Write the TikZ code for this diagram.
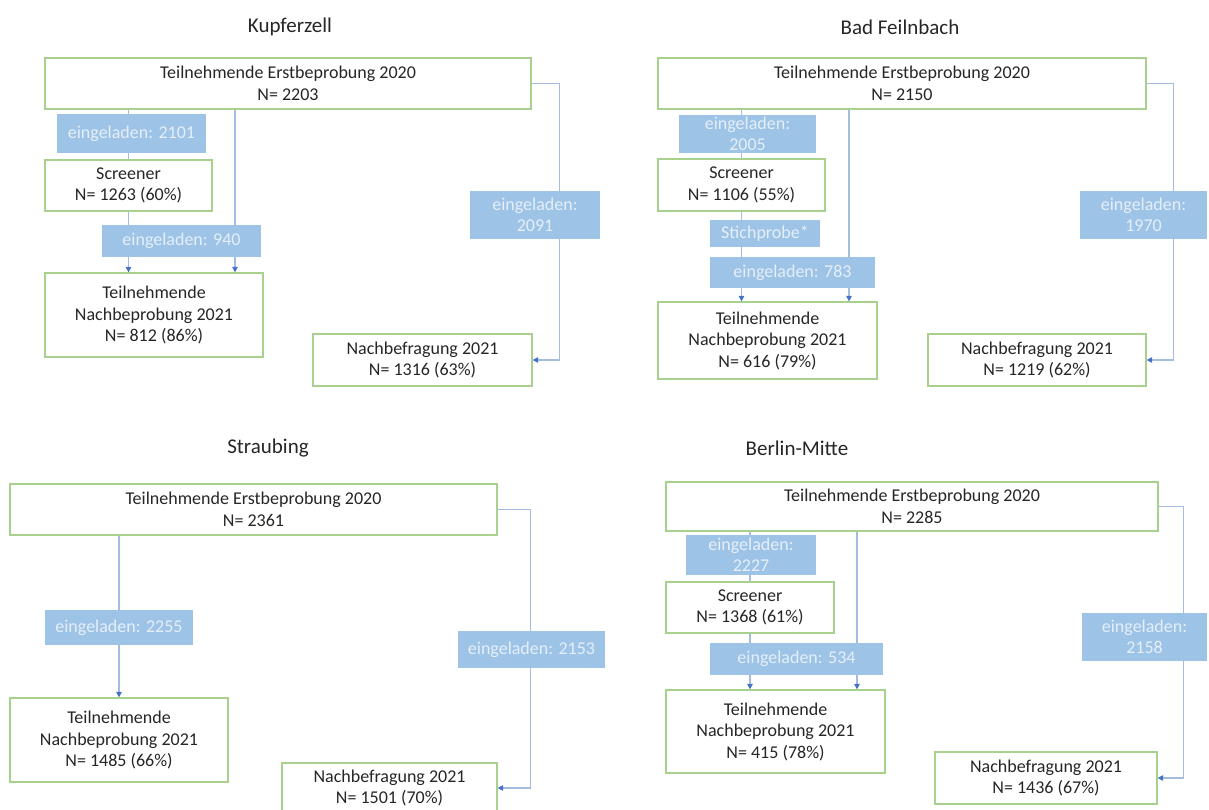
\documentclass[tikz,border=0pt]{standalone}
\usepackage{fontspec}
\setmainfont{Carlito}
\usetikzlibrary{arrows.meta}
\definecolor{boxline}{HTML}{A9D18E}
\definecolor{lblfill}{HTML}{9DC3E6}
\definecolor{lbltext}{HTML}{E6EFF9}
\definecolor{conn}{HTML}{A5BCE0}
\definecolor{tip}{HTML}{4472C4}
\definecolor{txt}{HTML}{262626}
\tikzset{
  box/.style={draw=boxline, line width=1.2pt, fill=white, inner sep=0pt, align=center, text=txt,
    font=\fontsize{18}{21.5}\selectfont},
  lbl/.style={fill=lblfill, inner sep=0pt, align=center, text=lbltext,
    font=\fontsize{18}{21}\selectfont},
  ttl/.style={text=txt, font=\fontsize{21}{25}\selectfont},
  con/.style={draw=conn, line width=1.1pt},
  arr/.style={con, -{Triangle[length=5.5pt,width=5.5pt,color=tip]}}
}
\begin{document}
\begin{tikzpicture}[x=1pt,y=-1pt]
\useasboundingbox (0,0) rectangle (1209,810);

% ---------------- Kupferzell ----------------
\node[ttl] (tK) at (290,27) {Kupferzell};
\node[box, minimum width=486pt, minimum height=51pt] (K0) at (288,83.5) {Teilnehmende Erstbeprobung 2020\\N= 2203};
\node[box, minimum width=167pt, minimum height=51pt] (KS) at (128.5,185.5) {Screener\\N= 1263 (60\%)};
\node[box, minimum width=218pt, minimum height=84pt] (KN) at (154,315) {Teilnehmende\\Nachbeprobung 2021\\N= 812 (86\%)};
\node[box, minimum width=219pt, minimum height=52pt] (KF) at (422.5,360) {Nachbefragung 2021\\N= 1316 (63\%)};
\coordinate (kx) at (235,0);
\draw[con] (K0.south -| KS.north) -- (KS.north);
\draw[arr] (KS.south) -- (KN.north -| KS.south);
\draw[arr] (K0.south -| kx) -- (KN.north -| kx);
\draw[arr] (K0.east) -- ++(28,0) |- (KF.east);
\node[lbl, minimum width=149pt, minimum height=39pt] (KL1) at (131.5,133.5) {eingeladen: 2101};
\node[lbl, minimum width=159pt, minimum height=32pt] (KL2) at (181.5,241) {eingeladen: 940};
\node[lbl, minimum width=130pt, minimum height=48pt] (KR) at (535,215) {eingeladen:\\2091};

% ---------------- Bad Feilnbach ----------------
\node[ttl] (tB) at (900,27) {Bad Feilnbach};
\node[box, minimum width=488pt, minimum height=51pt] (B0) at (902,83.5) {Teilnehmende Erstbeprobung 2020\\N= 2150};
\node[box, minimum width=167pt, minimum height=52pt] (BS) at (741.5,185) {Screener\\N= 1106 (55\%)};
\node[box, minimum width=219pt, minimum height=77pt] (BN) at (767.5,340.5) {Teilnehmende\\Nachbeprobung 2021\\N= 616 (79\%)};
\node[box, minimum width=218pt, minimum height=52pt] (BF) at (1037,360) {Nachbefragung 2021\\N= 1219 (62\%)};
\coordinate (bx) at (849,0);
\draw[con] (B0.south -| BS.north) -- (BS.north);
\draw[arr] (BS.south) -- (BN.north -| BS.south);
\draw[arr] (B0.south -| bx) -- (BN.north -| bx);
\draw[arr] (B0.east) -- ++(27,0) |- (BF.east);
\node[lbl, minimum width=137pt, minimum height=38pt] (BL1) at (747.5,134) {eingeladen:\\2005};
\node[lbl, minimum width=110pt, minimum height=27pt] (BL2) at (765,233.5) {Stichprobe*};
\node[lbl, minimum width=165pt, minimum height=31pt] (BL3) at (792.5,272.5) {eingeladen: 783};
\node[lbl, minimum width=127pt, minimum height=48pt] (BR) at (1143.5,215) {eingeladen:\\1970};

% ---------------- Straubing ----------------
\node[ttl] (tS) at (268,448) {Straubing};
\node[box, minimum width=487pt, minimum height=51pt] (S0) at (253.5,509.5) {Teilnehmende Erstbeprobung 2020\\N= 2361};
\node[box, minimum width=218pt, minimum height=84pt] (SN) at (119,740) {Teilnehmende\\Nachbeprobung 2021\\N= 1485 (66\%)};
\node[box, minimum width=215pt, minimum height=50pt] (SF) at (389.5,788) {Nachbefragung 2021\\N= 1501 (70\%)};
\draw[arr] (S0.south -| SN.north) -- (SN.north);
\draw[arr] (S0.east) -- ++(33,0) |- (SF.east);
\node[lbl, minimum width=148pt, minimum height=35pt] (SL1) at (119,627.5) {eingeladen: 2255};
\node[lbl, minimum width=147pt, minimum height=37pt] (SR) at (531.5,649.5) {eingeladen: 2153};

% ---------------- Berlin-Mitte ----------------
\node[ttl] (tM) at (797,448) {Berlin-Mitte};
\node[box, minimum width=492pt, minimum height=49pt] (M0) at (912,506.5) {Teilnehmende Erstbeprobung 2020\\N= 2285};
\node[box, minimum width=168pt, minimum height=51pt] (MS) at (750,607.5) {Screener\\N= 1368 (61\%)};
\node[box, minimum width=219pt, minimum height=83pt] (MN) at (775.5,731.5) {Teilnehmende\\Nachbeprobung 2021\\N= 415 (78\%)};
\node[box, minimum width=222pt, minimum height=52pt] (MF) at (1046,778) {Nachbefragung 2021\\N= 1436 (67\%)};
\coordinate (mx) at (857,0);
\draw[con] (M0.south -| MS.north) -- (MS.north);
\draw[arr] (MS.south) -- (MN.north -| MS.south);
\draw[arr] (M0.south -| mx) -- (MN.north -| mx);
\draw[arr] (M0.east) -- ++(25,0) |- (MF.east);
\node[lbl, minimum width=130pt, minimum height=40pt] (ML1) at (751,555) {eingeladen:\\2227};
\node[lbl, minimum width=173pt, minimum height=32pt] (ML2) at (796.5,659) {eingeladen: 534};
\node[lbl, minimum width=125pt, minimum height=48pt] (MR) at (1144.5,637) {eingeladen:\\2158};
\end{tikzpicture}
\end{document}
